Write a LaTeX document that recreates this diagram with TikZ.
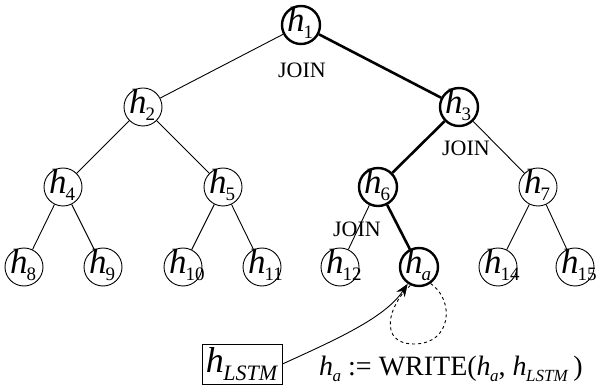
\documentclass[tikz,border=0pt]{standalone}
\usepackage{fontspec}
\setmainfont{Liberation Serif}
\usetikzlibrary{arrows.meta}
\newcommand{\hsub}[1]{\textit{h}\kern-1pt\raisebox{-7pt}{\fontsize{19}{19}\selectfont #1}}
\newcommand{\hsubs}[3]{\textit{h}\kern-0.5pt\raisebox{-#3}{\fontsize{#2}{#2}\selectfont #1}}
\tikzset{
  hnode/.style={circle, draw, line width=0.9pt, minimum size=38pt, inner sep=0pt},
  hbold/.style={hnode, line width=2.4pt},
  hlbl/.style={font=\fontsize{35}{35}\selectfont, inner sep=0pt},
  edge/.style={line width=0.9pt},
  bedge/.style={line width=2.6pt},
  joinlbl/.style={font=\fontsize{22}{22}\selectfont, inner sep=0pt}
}
\begin{document}
\begin{tikzpicture}[x=1pt,y=-1pt]
\useasboundingbox (0,0) rectangle (597,387);
% nodes
\node[hbold] (h1) at (301,25) {};
\node[hnode] (h2) at (143,107) {};
\node[hbold] (h3) at (459,107) {};
\node[hnode] (h4) at (63,187) {};
\node[hnode] (h5) at (223,187) {};
\node[hbold] (h6) at (378,187) {};
\node[hnode] (h7) at (538,187) {};
\node[hnode] (h8) at (24,267) {};
\node[hnode] (h9) at (103,267) {};
\node[hnode] (h10) at (183,267) {};
\node[hnode] (h11) at (262,267) {};
\node[hnode] (h12) at (340,267) {};
\node[hbold] (ha) at (419,267) {};
\node[hnode] (h14) at (498,267) {};
\node[hnode] (h15) at (575,267) {};
% labels
\foreach \n/\s in {h1/1,h2/2,h3/3,h4/4,h5/5,h6/6,h7/7,h8/8,h9/9,h10/10,h11/11,h12/12,h14/14,h15/15}
  \node[hlbl, anchor=base west] (l\n) at ([xshift=-14pt,yshift=-7pt]\n.center) {\hsub{\s}};
\node[hlbl, anchor=base west] (lha) at ([xshift=-14pt,yshift=-7pt]ha.center) {\hsub{\textit{a}}};
% edges
\draw[edge] (h1) -- (h2);
\draw[bedge] (h1) -- (h3);
\draw[edge] (h2) -- (h4);
\draw[edge] (h2) -- (h5);
\draw[bedge] (h3) -- (h6);
\draw[edge] (h3) -- (h7);
\draw[edge] (h4) -- (h8);
\draw[edge] (h4) -- (h9);
\draw[edge] (h5) -- (h10);
\draw[edge] (h5) -- (h11);
\draw[edge] (h6) -- (h12);
\draw[bedge] (h6) -- (ha);
\draw[edge] (h7) -- (h14);
\draw[edge] (h7) -- (h15);
% JOIN labels
\node[joinlbl] (j1) at (302,70) {JOIN};
\node[joinlbl] (j3) at (466,148) {JOIN};
\node[joinlbl] (j6) at (357,229) {JOIN};
% LSTM box
\node[draw, line width=0.9pt, minimum width=80pt, minimum height=40pt, inner sep=0pt,
      font=\fontsize{36}{36}\selectfont] (box) at (242,364) {\hsubs{\textit{LSTM}}{22}{8pt}};
% formula
\node[font=\fontsize{28}{28}\selectfont, inner sep=0pt, anchor=base west] (eq) at (319,375)
  {\hsubs{\textit{a}}{17}{6pt} := WRITE(\hsubs{\textit{a}}{17}{6pt}, \hsubs{\textit{LSTM}}{17}{6pt}\,)};
% arrow
\draw[line width=0.9pt, -{Stealth[length=13pt,width=10pt]}] (box.east) .. controls (335,340) and (385,318) .. (ha.236);
% dashed loop
\coordinate (lb) at (414,344);
\draw[dashed, line width=0.9pt] (ha.-55) .. controls (455,300) and (452,344) .. (lb)
   .. controls (378,344) and (388,305) .. (ha.-115);
\end{tikzpicture}
\end{document}
